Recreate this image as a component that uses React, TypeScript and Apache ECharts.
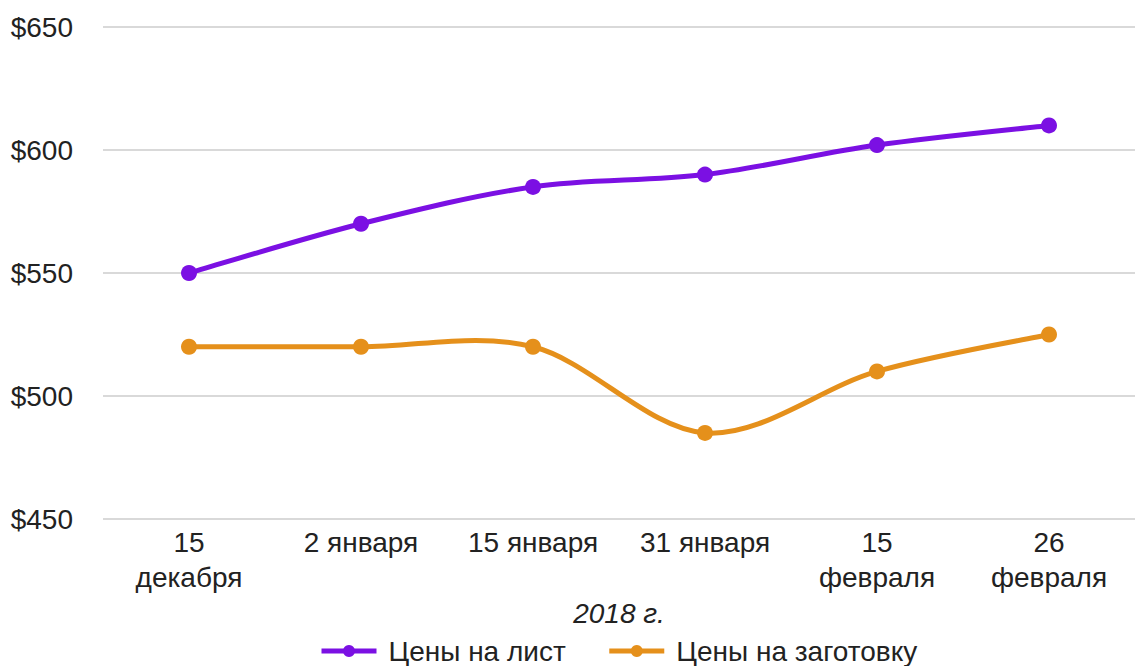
import React, { useEffect, useRef } from "react";
import * as echarts from "echarts";

const categories = ["15\nдекабря", "2 января", "15 января", "31 января", "15\nфевраля", "26\nфевраля"];
const sheetPrices = [550, 570, 585, 590, 602, 610];
const blankPrices = [520, 520, 520, 485, 510, 525];
const seriesNames = ["Цены на лист", "Цены на заготовку"];
const xAxisTitle = "2018 г.";

const FONT = "'Liberation Sans', Arial, sans-serif";
const PURPLE = "#7b10e3";
const ORANGE = "#e5901b";
const LINE_W = 5;

function curveSeries(values: number[], color: string) {
  return {
    type: "custom",
    silent: true,
    data: values.map((v, i) => [i, v]),
    encode: { x: 0, y: 1 },
    renderItem: (params: any, api: any) => {
      const i = params.dataIndex;
      const n = values.length;
      if (i >= n - 1) return { type: "group", children: [] };
      const c = (j: number) => Math.max(0, Math.min(n - 1, j));
      const p = (j: number) => api.coord([c(j), values[c(j)]]);
      const p0 = p(i - 1), p1 = p(i), p2 = p(i + 1), p3 = p(i + 2);
      const k = 1 / 6;
      return {
        type: "bezierCurve",
        shape: {
          x1: p1[0], y1: p1[1], x2: p2[0], y2: p2[1],
          cpx1: p1[0] + (p2[0] - p0[0]) * k, cpy1: p1[1] + (p2[1] - p0[1]) * k,
          cpx2: p2[0] - (p3[0] - p1[0]) * k, cpy2: p2[1] - (p3[1] - p1[1]) * k,
        },
        style: { stroke: color, lineWidth: LINE_W, fill: null, lineCap: "round" },
      };
    },
  };
}

export default function App() {
  const ref = useRef<HTMLDivElement>(null);
  useEffect(() => {
    if (!ref.current) return;
    const chart = echarts.init(ref.current, null, { renderer: "svg" });
    chart.setOption({
      animation: false,
      backgroundColor: "#ffffff",
      textStyle: { fontFamily: FONT },
      grid: { left: 103, top: 27, width: 1039, height: 492, containLabel: false },
      legend: {
        left: 314,
        top: 632,
        itemWidth: 55,
        itemHeight: 15,
        itemGap: 41,
        textStyle: { fontFamily: FONT, fontSize: 28, color: "#222", padding: [0, 0, 0, 7] },
        data: [
          { name: seriesNames[0], lineStyle: { color: PURPLE, width: LINE_W, opacity: 1 } },
          { name: seriesNames[1], lineStyle: { color: ORANGE, width: LINE_W, opacity: 1 } },
        ],
      },
      xAxis: {
        type: "category",
        data: categories,
        boundaryGap: true,
        axisLine: { show: false },
        axisTick: { show: false },
        axisLabel: {
          fontFamily: FONT,
          fontSize: 28,
          color: "#222",
          lineHeight: 35,
          margin: 6,
          interval: 0,
        },
        name: xAxisTitle,
        nameLocation: "middle",
        nameGap: 79,
        nameTextStyle: { fontFamily: FONT, fontSize: 28, color: "#222", fontStyle: "italic" },
      },
      yAxis: {
        type: "value",
        min: 450,
        max: 650,
        interval: 50,
        axisLine: { show: false },
        axisTick: { show: false },
        splitLine: { lineStyle: { color: "#d9d9d9", width: 2 } },
        axisLabel: {
          fontFamily: FONT,
          fontSize: 28,
          color: "#222",
          margin: 30,
          formatter: (v: number) => "$" + v,
        },
      },
      series: [
        curveSeries(sheetPrices, PURPLE),
        curveSeries(blankPrices, ORANGE),
        {
          name: seriesNames[0],
          type: "line",
          data: sheetPrices,
          symbol: "circle",
          symbolSize: 16,
          lineStyle: { width: LINE_W, color: PURPLE, opacity: 0 },
          itemStyle: { color: PURPLE },
        },
        {
          name: seriesNames[1],
          type: "line",
          data: blankPrices,
          symbol: "circle",
          symbolSize: 16,
          lineStyle: { width: LINE_W, color: ORANGE, opacity: 0 },
          itemStyle: { color: ORANGE },
        },
      ],
    });
    return () => chart.dispose();
  }, []);
  return (
    <div
      ref={ref}
      style={{ position: "absolute", left: 0, top: 0, width: 1135, height: 666 }}
    />
  );
}
